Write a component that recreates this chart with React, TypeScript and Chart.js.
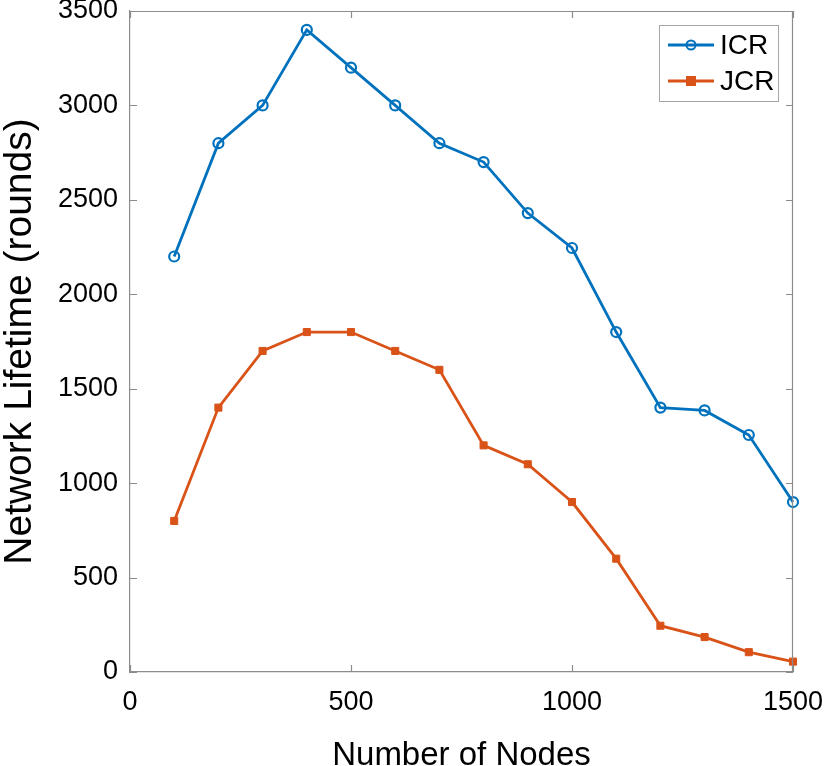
import React, { useEffect, useRef } from "react";
import { Chart, registerables } from "chart.js";

Chart.register(...registerables);

const nodes = [100, 200, 300, 400, 500, 600, 700, 800, 900, 1000, 1100, 1200, 1300, 1400, 1500];
const icr = [2200, 2800, 3000, 3400, 3200, 3000, 2800, 2700, 2430, 2245, 1800, 1400, 1385, 1255, 900];
const jcr = [800, 1400, 1700, 1800, 1800, 1700, 1600, 1200, 1100, 900, 600, 245, 185, 105, 55];
const seriesLabels = ["ICR", "JCR"];
const xTitle = "Number of Nodes";
const yTitle = "Network Lifetime (rounds)";

const FONT = "'Liberation Sans', Arial, Helvetica, sans-serif";
const BLUE = "#0072BD";
const ORANGE = "#D95319";
const AXIS = "#8c8c8c";

const boxPlugin = {
  id: "boxTicks",
  afterDraw(chart: any) {
    const { ctx, chartArea } = chart;
    const { left, right, top, bottom } = chartArea;
    const xs = chart.scales.x;
    const ys = chart.scales.y;
    ctx.save();
    ctx.strokeStyle = AXIS;
    ctx.lineWidth = 1.2;
    ctx.beginPath();
    ctx.moveTo(left, top + 0.5);
    ctx.lineTo(right, top + 0.5);
    ctx.moveTo(right - 0.5, top);
    ctx.lineTo(right - 0.5, bottom);
    const tl = 7;
    xs.ticks.forEach((t: any) => {
      const px = Math.round(xs.getPixelForValue(t.value)) + 0.5;
      ctx.moveTo(px, bottom);
      ctx.lineTo(px, bottom - tl);
      ctx.moveTo(px, top);
      ctx.lineTo(px, top + tl);
    });
    ys.ticks.forEach((t: any) => {
      const py = Math.round(ys.getPixelForValue(t.value)) + 0.5;
      ctx.moveTo(left, py);
      ctx.lineTo(left + tl, py);
      ctx.moveTo(right, py);
      ctx.lineTo(right - tl, py);
    });
    ctx.stroke();

    // legend
    const lw = 119;
    const lh = 76;
    const lx = right - 15 - lw;
    const ly = top + 14;
    ctx.fillStyle = "#ffffff";
    ctx.fillRect(lx, ly, lw, lh);
    ctx.lineWidth = 1;
    ctx.strokeStyle = "#a6a6a6";
    ctx.strokeRect(lx + 0.5, ly + 0.5, lw, lh);
    chart.data.datasets.forEach((ds: any, i: number) => {
      const cy = ly + 20 + i * 36;
      ctx.strokeStyle = ds.borderColor;
      ctx.lineWidth = 3;
      ctx.beginPath();
      ctx.moveTo(lx + 9, cy);
      ctx.lineTo(lx + 55, cy);
      ctx.stroke();
      const mx = lx + 32;
      if (ds.pointStyle === "circle") {
        ctx.lineWidth = 2;
        ctx.beginPath();
        ctx.arc(mx, cy, 4.5, 0, Math.PI * 2);
        ctx.stroke();
      } else {
        ctx.fillStyle = ds.borderColor;
        ctx.fillRect(mx - 5, cy - 5, 10, 10);
      }
      ctx.fillStyle = "#000000";
      ctx.font = `28px ${FONT}`;
      ctx.textBaseline = "middle";
      ctx.textAlign = "left";
      ctx.fillText(ds.label, lx + 61, cy + 1);
    });
    ctx.restore();
  },
};

export default function App() {
  const ref = useRef<HTMLCanvasElement>(null);
  useEffect(() => {
    document.body.style.margin = "0";
    const chart = new Chart(ref.current as HTMLCanvasElement, {
      type: "line",
      data: {
        datasets: [
          {
            label: seriesLabels[0],
            data: nodes.map((n, i) => ({ x: n, y: icr[i] })),
            borderColor: BLUE,
            backgroundColor: "rgba(0,0,0,0)",
            borderWidth: 2.8,
            pointStyle: "circle",
            pointRadius: 5,
            pointBorderWidth: 2.2,
            pointBackgroundColor: "rgba(0,0,0,0)",
            pointBorderColor: BLUE,
            tension: 0,
            clip: false,
          },
          {
            label: seriesLabels[1],
            data: nodes.map((n, i) => ({ x: n, y: jcr[i] })),
            borderColor: ORANGE,
            backgroundColor: ORANGE,
            borderWidth: 2.8,
            pointStyle: "rect",
            pointRadius: 5,
            pointBorderWidth: 1,
            pointBackgroundColor: ORANGE,
            pointBorderColor: ORANGE,
            tension: 0,
            clip: false,
          },
        ],
      },
      options: {
        animation: false,
        responsive: false,
        devicePixelRatio: 1,
        layout: { padding: { top: 11, right: 32, bottom: 0, left: 0 } },
        plugins: { legend: { display: false }, tooltip: { enabled: false } },
        scales: {
          x: {
            type: "linear",
            min: 0,
            max: 1500,
            grid: { display: false, drawTicks: false },
            border: { display: true, color: AXIS, width: 1.2 },
            ticks: {
              stepSize: 500,
              padding: 14,
              color: "#000",
              font: { family: FONT, size: 27 },
              maxRotation: 0,
              callback: (v: any) => String(v),
            },
            title: {
              display: true,
              text: xTitle,
              color: "#000",
              font: { family: FONT, size: 33, lineHeight: 0.6 },
              padding: 0,
            },
            afterFit(scale: any) {
              scale.height = 94;
              scale.paddingLeft = 0;
              scale.paddingRight = 0;
            },
          },
          y: {
            type: "linear",
            min: 0,
            max: 3500,
            grid: { display: false, drawTicks: false },
            border: { display: true, color: AXIS, width: 1.2 },
            ticks: {
              stepSize: 500,
              padding: 12,
              color: "#000",
              font: { family: FONT, size: 27 },
              callback: (v: any) => String(v),
            },
            title: {
              display: true,
              text: yTitle,
              color: "#000",
              font: { family: FONT, size: 39, lineHeight: 1 },
              padding: { top: 1, bottom: 0 },
            },
            afterFit(scale: any) {
              scale.width = 130;
              scale.paddingTop = 0;
              scale.paddingBottom = 0;
            },
          },
        },
      },
      plugins: [boxPlugin],
    } as any);
    return () => chart.destroy();
  }, []);
  return (
    <div style={{ width: 825, height: 766 }}>
      <canvas ref={ref} width={825} height={766} style={{ display: "block" }} />
    </div>
  );
}
